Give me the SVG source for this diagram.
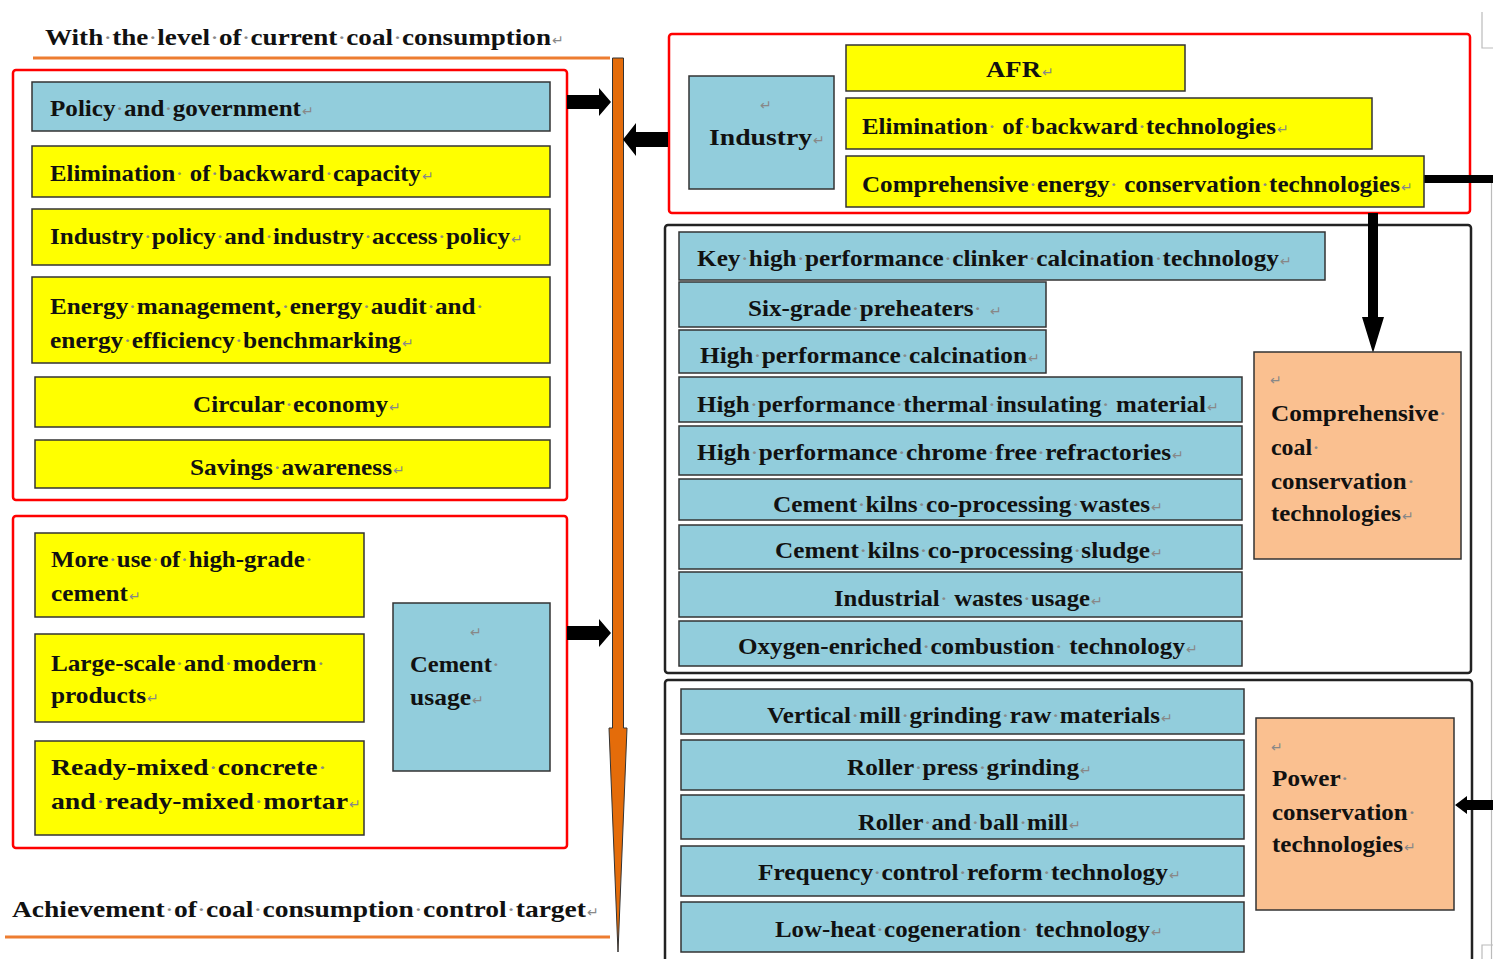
<svg xmlns="http://www.w3.org/2000/svg" width="1493" height="959" viewBox="0 0 1493 959">
<style>
text.t{font-family:'Liberation Serif','Times New Roman',serif;font-weight:700;font-size:23px;fill:#111}
.d{fill:#888;font-weight:400}
text.r{font-family:'DejaVu Sans',sans-serif;font-size:14px;fill:#888}
.blue{fill:#92CDDC;stroke:#333;stroke-width:1.5}
.yel{fill:#FFFF00;stroke:#333;stroke-width:1.5}
.peach{fill:#FAC090;stroke:#333;stroke-width:1.5}
.redc{fill:none;stroke:#FF0000;stroke-width:2.5}
.blkc{fill:none;stroke:#222;stroke-width:2.5}
.arr{fill:#000}
.oline{stroke:#ED7D31;stroke-width:3}
.gray{stroke:#BBB;stroke-width:1.2;fill:none}
</style>
<rect width="1493" height="959" fill="#fff"/>

<g id="page-marks">
<path class="gray" d="M1482,12 V48 H1493"/>
<path class="gray" d="M1491.5,183 V959"/>
<path class="gray" d="M1482,959 V945 H1493"/>
</g>

<g id="containers">
<rect class="redc" x="13" y="70" width="554" height="430" rx="3"/>
<rect class="redc" x="13" y="516" width="554" height="332" rx="3"/>
<rect class="redc" x="669" y="34" width="801" height="179" rx="3"/>
<rect class="blkc" x="665" y="225" width="806" height="448" rx="3"/>
<rect class="blkc" x="665" y="680" width="807" height="300" rx="3"/>
</g>

<g id="title-top">
<text class="t" x="45" y="45" style="font-size:24px" textLength="506" lengthAdjust="spacingAndGlyphs">With<tspan class="d">·</tspan>the<tspan class="d">·</tspan>level<tspan class="d">·</tspan>of<tspan class="d">·</tspan>current<tspan class="d">·</tspan>coal<tspan class="d">·</tspan>consumption</text>
<text class="r" x="552" y="45">↵</text>
<line class="oline" x1="33" y1="58" x2="610" y2="58"/>
</g>

<g id="title-bottom">
<text class="t" x="12" y="917" style="font-size:24px" textLength="574" lengthAdjust="spacingAndGlyphs">Achievement<tspan class="d">·</tspan>of<tspan class="d">·</tspan>coal<tspan class="d">·</tspan>consumption<tspan class="d">·</tspan>control<tspan class="d">·</tspan>target</text>
<text class="r" x="587" y="917">↵</text>
<line class="oline" x1="5" y1="937" x2="610" y2="937"/>
</g>

<g id="timeline">
<path d="M612.5,58 H623.5 V728 H627 L618,952 L609,728 H612.5 Z" fill="#E46C0A" stroke="#333" stroke-width="1"/>
</g>

<g id="connectors">
<polygon class="arr" points="567,95 599,95 599,88 611,102 599,116 599,109 567,109"/>
<polygon class="arr" points="567,626 599,626 599,619 611,633 599,647 599,640 567,640"/>
<polygon class="arr" points="668,132 636,132 636,123 623,139.5 636,156 636,147 668,147"/>
<rect class="arr" x="1424" y="175" width="69" height="8"/>
<polygon class="arr" points="1368,213 1378,213 1378,317 1384,317 1373,353 1362,317 1368,317"/>
<polygon class="arr" points="1493,800 1467,800 1467,796 1455,805 1467,814 1467,810 1493,810"/>
</g>

<g id="n-policy">
<rect class="blue" x="32" y="82" width="518" height="49"/>
<text class="t" x="50" y="116" textLength="251" lengthAdjust="spacingAndGlyphs">Policy<tspan class="d">·</tspan>and<tspan class="d">·</tspan>government</text>
<text class="r" x="302" y="116">↵</text>
</g>
<g id="n-elim-capacity">
<rect class="yel" x="32" y="146" width="518" height="51"/>
<text class="t" x="50" y="181" textLength="371" lengthAdjust="spacingAndGlyphs">Elimination<tspan class="d">·</tspan> of<tspan class="d">·</tspan>backward<tspan class="d">·</tspan>capacity</text>
<text class="r" x="422" y="181">↵</text>
</g>
<g id="n-industry-policy">
<rect class="yel" x="32" y="209" width="518" height="56"/>
<text class="t" x="50" y="244" textLength="460" lengthAdjust="spacingAndGlyphs">Industry<tspan class="d">·</tspan>policy<tspan class="d">·</tspan>and<tspan class="d">·</tspan>industry<tspan class="d">·</tspan>access<tspan class="d">·</tspan>policy</text>
<text class="r" x="511" y="244">↵</text>
</g>
<g id="n-energy-mgmt">
<rect class="yel" x="32" y="277" width="518" height="86"/>
<text class="t" x="50" y="314" textLength="434" lengthAdjust="spacingAndGlyphs">Energy<tspan class="d">·</tspan>management,<tspan class="d">·</tspan>energy<tspan class="d">·</tspan>audit<tspan class="d">·</tspan>and<tspan class="d">·</tspan></text>
<text class="t" x="50" y="348" textLength="351" lengthAdjust="spacingAndGlyphs">energy<tspan class="d">·</tspan>efficiency<tspan class="d">·</tspan>benchmarking</text>
<text class="r" x="402" y="348">↵</text>
</g>
<g id="n-circular">
<rect class="yel" x="35" y="377" width="515" height="50"/>
<text class="t" x="193" y="412" textLength="195" lengthAdjust="spacingAndGlyphs">Circular<tspan class="d">·</tspan>economy</text>
<text class="r" x="389" y="412">↵</text>
</g>
<g id="n-savings">
<rect class="yel" x="35" y="440" width="515" height="48"/>
<text class="t" x="190" y="475" textLength="202" lengthAdjust="spacingAndGlyphs">Savings<tspan class="d">·</tspan>awareness</text>
<text class="r" x="393" y="475">↵</text>
</g>

<g id="n-high-grade">
<rect class="yel" x="35" y="533" width="329" height="84"/>
<text class="t" x="51" y="567" textLength="262" lengthAdjust="spacingAndGlyphs">More<tspan class="d">·</tspan>use<tspan class="d">·</tspan>of<tspan class="d">·</tspan>high-grade<tspan class="d">·</tspan></text>
<text class="t" x="51" y="601" textLength="77" lengthAdjust="spacingAndGlyphs">cement</text>
<text class="r" x="129" y="601">↵</text>
</g>
<g id="n-large-scale">
<rect class="yel" x="35" y="634" width="329" height="88"/>
<text class="t" x="51" y="671" textLength="274" lengthAdjust="spacingAndGlyphs">Large-scale<tspan class="d">·</tspan>and<tspan class="d">·</tspan>modern<tspan class="d">·</tspan></text>
<text class="t" x="51" y="703" textLength="95" lengthAdjust="spacingAndGlyphs">products</text>
<text class="r" x="147" y="703">↵</text>
</g>
<g id="n-ready-mixed">
<rect class="yel" x="35" y="741" width="329" height="94"/>
<text class="t" x="51" y="775" textLength="276" lengthAdjust="spacingAndGlyphs">Ready-mixed<tspan class="d">·</tspan>concrete<tspan class="d">·</tspan></text>
<text class="t" x="51" y="809" textLength="297" lengthAdjust="spacingAndGlyphs">and<tspan class="d">·</tspan>ready-mixed<tspan class="d">·</tspan>mortar</text>
<text class="r" x="349" y="809">↵</text>
</g>
<g id="n-cement-usage">
<rect class="blue" x="393" y="603" width="157" height="168"/>
<text class="r" x="470" y="637">↵</text>
<text class="t" x="410" y="672" textLength="90" lengthAdjust="spacingAndGlyphs">Cement<tspan class="d">·</tspan></text>
<text class="t" x="410" y="705" textLength="61" lengthAdjust="spacingAndGlyphs">usage</text>
<text class="r" x="472" y="705">↵</text>
</g>

<g id="n-industry">
<rect class="blue" x="689" y="76" width="145" height="113"/>
<text class="r" x="760" y="110">↵</text>
<text class="t" x="709" y="145" textLength="103" lengthAdjust="spacingAndGlyphs">Industry</text>
<text class="r" x="813" y="145">↵</text>
</g>
<g id="n-afr">
<rect class="yel" x="846" y="45" width="339" height="46"/>
<text class="t" x="986" y="77" textLength="55" lengthAdjust="spacingAndGlyphs">AFR</text>
<text class="r" x="1042" y="77">↵</text>
</g>
<g id="n-elim-tech">
<rect class="yel" x="846" y="98" width="526" height="51"/>
<text class="t" x="862" y="134" textLength="414" lengthAdjust="spacingAndGlyphs">Elimination<tspan class="d">·</tspan> of<tspan class="d">·</tspan>backward<tspan class="d">·</tspan>technologies</text>
<text class="r" x="1277" y="134">↵</text>
</g>
<g id="n-comp-energy">
<rect class="yel" x="846" y="156" width="578" height="51"/>
<text class="t" x="862" y="192" textLength="538" lengthAdjust="spacingAndGlyphs">Comprehensive<tspan class="d">·</tspan>energy<tspan class="d">·</tspan> conservation<tspan class="d">·</tspan>technologies</text>
<text class="r" x="1401" y="192">↵</text>
</g>

<g id="n-key-clinker">
<rect class="blue" x="679" y="232" width="646" height="48"/>
<text class="t" x="697" y="266" textLength="582" lengthAdjust="spacingAndGlyphs">Key<tspan class="d">·</tspan>high<tspan class="d">·</tspan>performance<tspan class="d">·</tspan>clinker<tspan class="d">·</tspan>calcination<tspan class="d">·</tspan>technology</text>
<text class="r" x="1280" y="266">↵</text>
</g>
<g id="n-six-grade">
<rect class="blue" x="679" y="282" width="367" height="45"/>
<text class="t" x="748" y="316" textLength="234" lengthAdjust="spacingAndGlyphs">Six-grade<tspan class="d">·</tspan>preheaters<tspan class="d">·</tspan></text>
<text class="r" x="990" y="316">↵</text>
</g>
<g id="n-hp-calcination">
<rect class="blue" x="679" y="330" width="367" height="43"/>
<text class="t" x="700" y="363" textLength="327" lengthAdjust="spacingAndGlyphs">High<tspan class="d">·</tspan>performance<tspan class="d">·</tspan>calcination</text>
<text class="r" x="1028" y="363">↵</text>
</g>
<g id="n-thermal">
<rect class="blue" x="679" y="377" width="563" height="45"/>
<text class="t" x="697" y="412" textLength="509" lengthAdjust="spacingAndGlyphs">High<tspan class="d">·</tspan>performance<tspan class="d">·</tspan>thermal<tspan class="d">·</tspan>insulating<tspan class="d">·</tspan> material</text>
<text class="r" x="1207" y="412">↵</text>
</g>
<g id="n-chrome">
<rect class="blue" x="679" y="426" width="563" height="49"/>
<text class="t" x="697" y="460" textLength="474" lengthAdjust="spacingAndGlyphs">High<tspan class="d">·</tspan>performance<tspan class="d">·</tspan>chrome<tspan class="d">·</tspan>free<tspan class="d">·</tspan>refractories</text>
<text class="r" x="1172" y="460">↵</text>
</g>
<g id="n-wastes">
<rect class="blue" x="679" y="479" width="563" height="41"/>
<text class="t" x="773" y="512" textLength="377" lengthAdjust="spacingAndGlyphs">Cement<tspan class="d">·</tspan>kilns<tspan class="d">·</tspan>co-processing<tspan class="d">·</tspan>wastes</text>
<text class="r" x="1151" y="512">↵</text>
</g>
<g id="n-sludge">
<rect class="blue" x="679" y="525" width="563" height="44"/>
<text class="t" x="775" y="558" textLength="375" lengthAdjust="spacingAndGlyphs">Cement<tspan class="d">·</tspan>kilns<tspan class="d">·</tspan>co-processing<tspan class="d">·</tspan>sludge</text>
<text class="r" x="1151" y="558">↵</text>
</g>
<g id="n-industrial-wastes">
<rect class="blue" x="679" y="572" width="563" height="45"/>
<text class="t" x="834" y="606" textLength="256" lengthAdjust="spacingAndGlyphs">Industrial<tspan class="d">·</tspan> wastes<tspan class="d">·</tspan>usage</text>
<text class="r" x="1091" y="606">↵</text>
</g>
<g id="n-oxygen">
<rect class="blue" x="679" y="621" width="563" height="45"/>
<text class="t" x="738" y="654" textLength="447" lengthAdjust="spacingAndGlyphs">Oxygen-enriched<tspan class="d">·</tspan>combustion<tspan class="d">·</tspan> technology</text>
<text class="r" x="1186" y="654">↵</text>
</g>
<g id="n-comp-coal">
<rect class="peach" x="1254" y="352" width="207" height="207"/>
<text class="r" x="1270" y="385">↵</text>
<text class="t" x="1271" y="421" textLength="176" lengthAdjust="spacingAndGlyphs">Comprehensive<tspan class="d">·</tspan></text>
<text class="t" x="1271" y="455" textLength="49" lengthAdjust="spacingAndGlyphs">coal<tspan class="d">·</tspan></text>
<text class="t" x="1271" y="489" textLength="144" lengthAdjust="spacingAndGlyphs">conservation<tspan class="d">·</tspan></text>
<text class="t" x="1271" y="521" textLength="130" lengthAdjust="spacingAndGlyphs">technologies</text>
<text class="r" x="1402" y="521">↵</text>
</g>

<g id="n-vertical-mill">
<rect class="blue" x="681" y="689" width="563" height="45"/>
<text class="t" x="767" y="723" textLength="393" lengthAdjust="spacingAndGlyphs">Vertical<tspan class="d">·</tspan>mill<tspan class="d">·</tspan>grinding<tspan class="d">·</tspan>raw<tspan class="d">·</tspan>materials</text>
<text class="r" x="1161" y="723">↵</text>
</g>
<g id="n-roller-press">
<rect class="blue" x="681" y="740" width="563" height="50"/>
<text class="t" x="847" y="775" textLength="232" lengthAdjust="spacingAndGlyphs">Roller<tspan class="d">·</tspan>press<tspan class="d">·</tspan>grinding</text>
<text class="r" x="1080" y="775">↵</text>
</g>
<g id="n-roller-ball">
<rect class="blue" x="681" y="795" width="563" height="44"/>
<text class="t" x="858" y="830" textLength="210" lengthAdjust="spacingAndGlyphs">Roller<tspan class="d">·</tspan>and<tspan class="d">·</tspan>ball<tspan class="d">·</tspan>mill</text>
<text class="r" x="1069" y="830">↵</text>
</g>
<g id="n-frequency">
<rect class="blue" x="681" y="846" width="563" height="50"/>
<text class="t" x="758" y="880" textLength="410" lengthAdjust="spacingAndGlyphs">Frequency<tspan class="d">·</tspan>control<tspan class="d">·</tspan>reform<tspan class="d">·</tspan>technology</text>
<text class="r" x="1169" y="880">↵</text>
</g>
<g id="n-low-heat">
<rect class="blue" x="681" y="902" width="563" height="50"/>
<text class="t" x="775" y="937" textLength="375" lengthAdjust="spacingAndGlyphs">Low-heat<tspan class="d">·</tspan>cogeneration<tspan class="d">·</tspan> technology</text>
<text class="r" x="1151" y="937">↵</text>
</g>
<g id="n-power">
<rect class="peach" x="1256" y="718" width="198" height="192"/>
<text class="r" x="1271" y="752">↵</text>
<text class="t" x="1272" y="786" textLength="77" lengthAdjust="spacingAndGlyphs">Power<tspan class="d">·</tspan></text>
<text class="t" x="1272" y="820" textLength="144" lengthAdjust="spacingAndGlyphs">conservation<tspan class="d">·</tspan></text>
<text class="t" x="1272" y="852" textLength="131" lengthAdjust="spacingAndGlyphs">technologies</text>
<text class="r" x="1404" y="852">↵</text>
</g>
</svg>
